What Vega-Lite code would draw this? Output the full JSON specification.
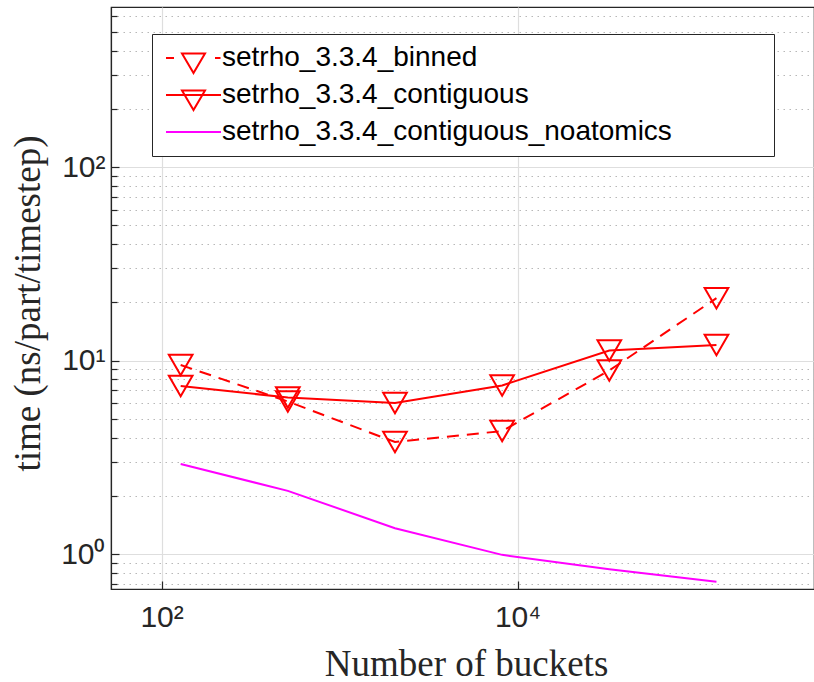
{
  "$schema": "https://vega.github.io/schema/vega-lite/v6.json",
  "width": 703,
  "height": 582,
  "autosize": "none",
  "padding": {"left": 111, "top": 7, "right": 0, "bottom": 93},
  "background": "white",
  "config": {
    "view": {"stroke": "#262626", "strokeWidth": 1.2},
    "axis": {"domainColor": "#262626", "tickColor": "#262626", "labelColor": "#262626", "titleColor": "#262626"}
  },
  "data": {
    "values": [
      {"n": 128, "t": 9.48, "series": "setrho_3.3.4_binned"},
      {"n": 512, "t": 6.14, "series": "setrho_3.3.4_binned"},
      {"n": 2048, "t": 3.79, "series": "setrho_3.3.4_binned"},
      {"n": 8192, "t": 4.32, "series": "setrho_3.3.4_binned"},
      {"n": 32768, "t": 8.88, "series": "setrho_3.3.4_binned"},
      {"n": 131072, "t": 21.0, "series": "setrho_3.3.4_binned"},
      {"n": 128, "t": 7.38, "series": "setrho_3.3.4_contiguous"},
      {"n": 512, "t": 6.44, "series": "setrho_3.3.4_contiguous"},
      {"n": 2048, "t": 6.03, "series": "setrho_3.3.4_contiguous"},
      {"n": 8192, "t": 7.43, "series": "setrho_3.3.4_contiguous"},
      {"n": 32768, "t": 11.26, "series": "setrho_3.3.4_contiguous"},
      {"n": 131072, "t": 12.03, "series": "setrho_3.3.4_contiguous"},
      {"n": 128, "t": 2.92, "series": "setrho_3.3.4_contiguous_noatomics"},
      {"n": 512, "t": 2.12, "series": "setrho_3.3.4_contiguous_noatomics"},
      {"n": 2048, "t": 1.36, "series": "setrho_3.3.4_contiguous_noatomics"},
      {"n": 8192, "t": 0.99, "series": "setrho_3.3.4_contiguous_noatomics"},
      {"n": 32768, "t": 0.834, "series": "setrho_3.3.4_contiguous_noatomics"},
      {"n": 131072, "t": 0.719, "series": "setrho_3.3.4_contiguous_noatomics"}
    ]
  },
  "encoding": {
    "x": {
      "field": "n", "type": "quantitative",
      "scale": {"type": "log", "domain": [51.97, 463000], "nice": false},
      "axis": {
        "values": [100, 10000],
        "labelExpr": "datum.value == 100 ? '10²' : '10⁴'",
        "labelFont": "Liberation Sans", "labelFontSize": 30,
        "labelBaseline": "alphabetic", "labelPadding": 45,
        "tickSize": -8, "tickWidth": 1.2,
        "grid": true, "gridColor": "#dedede", "gridWidth": 1.2,
        "domainWidth": 1.2,
        "title": "Number of buckets",
        "titleFont": "Liberation Serif", "titleFontSize": 37, "titleFontWeight": "normal",
        "titleX": 355, "titleY": 86, "titleBaseline": "alphabetic", "titleAlign": "center"
      }
    },
    "y": {
      "field": "t", "type": "quantitative",
      "scale": {"type": "log", "domain": [0.6594, 671.4], "nice": false},
      "axis": {
        "values": [0.7, 0.8, 0.9, 1, 2, 3, 4, 5, 6, 7, 8, 9, 10, 20, 30, 40, 50, 60, 70, 80, 90, 100, 200, 300, 400, 500, 600],
        "labelExpr": "datum.value == 1 ? '10⁰' : datum.value == 10 ? '10¹' : datum.value == 100 ? '10²' : ''",
        "labelOverlap": false,
        "labelFont": "Liberation Sans", "labelFontSize": 30,
        "labelPadding": 14,
        "tickSize": {"condition": {"test": "datum.value == 1 || datum.value == 10 || datum.value == 100", "value": -8}, "value": -6},
        "tickWidth": 1.2,
        "grid": true,
        "gridDash": {"condition": {"test": "datum.value == 1 || datum.value == 10 || datum.value == 100", "value": []}, "value": [1.5, 4.5]},
        "gridColor": {"condition": {"test": "datum.value == 1 || datum.value == 10 || datum.value == 100", "value": "#dedede"}, "value": "#b8b8b8"},
        "gridWidth": 1.2,
        "domainWidth": 1.2,
        "title": "time (ns/part/timestep)",
        "titleFont": "Liberation Serif", "titleFontSize": 37, "titleFontWeight": "normal",
        "titleX": -83, "titleY": 296, "titleAngle": -90, "titleBaseline": "middle", "titleAlign": "center"
      }
    },
    "color": {
      "field": "series", "type": "nominal",
      "scale": {
        "domain": ["setrho_3.3.4_binned", "setrho_3.3.4_contiguous", "setrho_3.3.4_contiguous_noatomics"],
        "range": ["#ff0000", "#ff0000", "#ff00ff"]
      },
      "legend": {
        "title": null,
        "orient": "none", "legendX": 41, "legendY": 27,
        "strokeColor": "#262626", "fillColor": "white", "padding": 10,
        "labelFont": "Liberation Sans", "labelFontSize": 28, "labelColor": "#000000", "labelLimit": 900,
        "labelExpr": "datum.label + '\u2800\u2800\u2800\u00a0\u2800'",
        "symbolSize": 400, "symbolOffset": 17.5, "labelOffset": 14.5, "rowPadding": 4,
        "symbolStrokeWidth": 2,
        "encode": {
          "symbols": {
            "update": {
              "shape": {"signal": "datum.value == 'setrho_3.3.4_binned' ? 'M-2.75,0H-1.95M2.15,0H2.7M-1.15,-0.45H1.15L0,1.5Z' : datum.value == 'setrho_3.3.4_contiguous' ? 'M-2.75,0H2.75M-1.15,-0.45H1.15L0,1.5Z' : 'M-2.75,0H2.75'"},
              "fill": {"value": "transparent"},
              "strokeWidth": {"value": 2}
            }
          }
        }
      }
    }
  },
  "layer": [
    {
      "transform": [{"filter": "datum.series == 'setrho_3.3.4_binned'"}],
      "mark": {"type": "line", "strokeWidth": 2, "strokeDash": [12, 8]}
    },
    {
      "transform": [{"filter": "datum.series != 'setrho_3.3.4_binned'"}],
      "mark": {"type": "line", "strokeWidth": 2}
    },
    {
      "transform": [{"filter": "datum.series != 'setrho_3.3.4_contiguous_noatomics'"}],
      "mark": {"type": "point", "shape": "triangle-down", "filled": false, "stroke": "#ff0000", "strokeWidth": 2, "size": 560, "opacity": 1},
      "encoding": {"color": {"value": "#ff0000"}, "detail": {"field": "series", "type": "nominal"}}
    }
  ]
}
